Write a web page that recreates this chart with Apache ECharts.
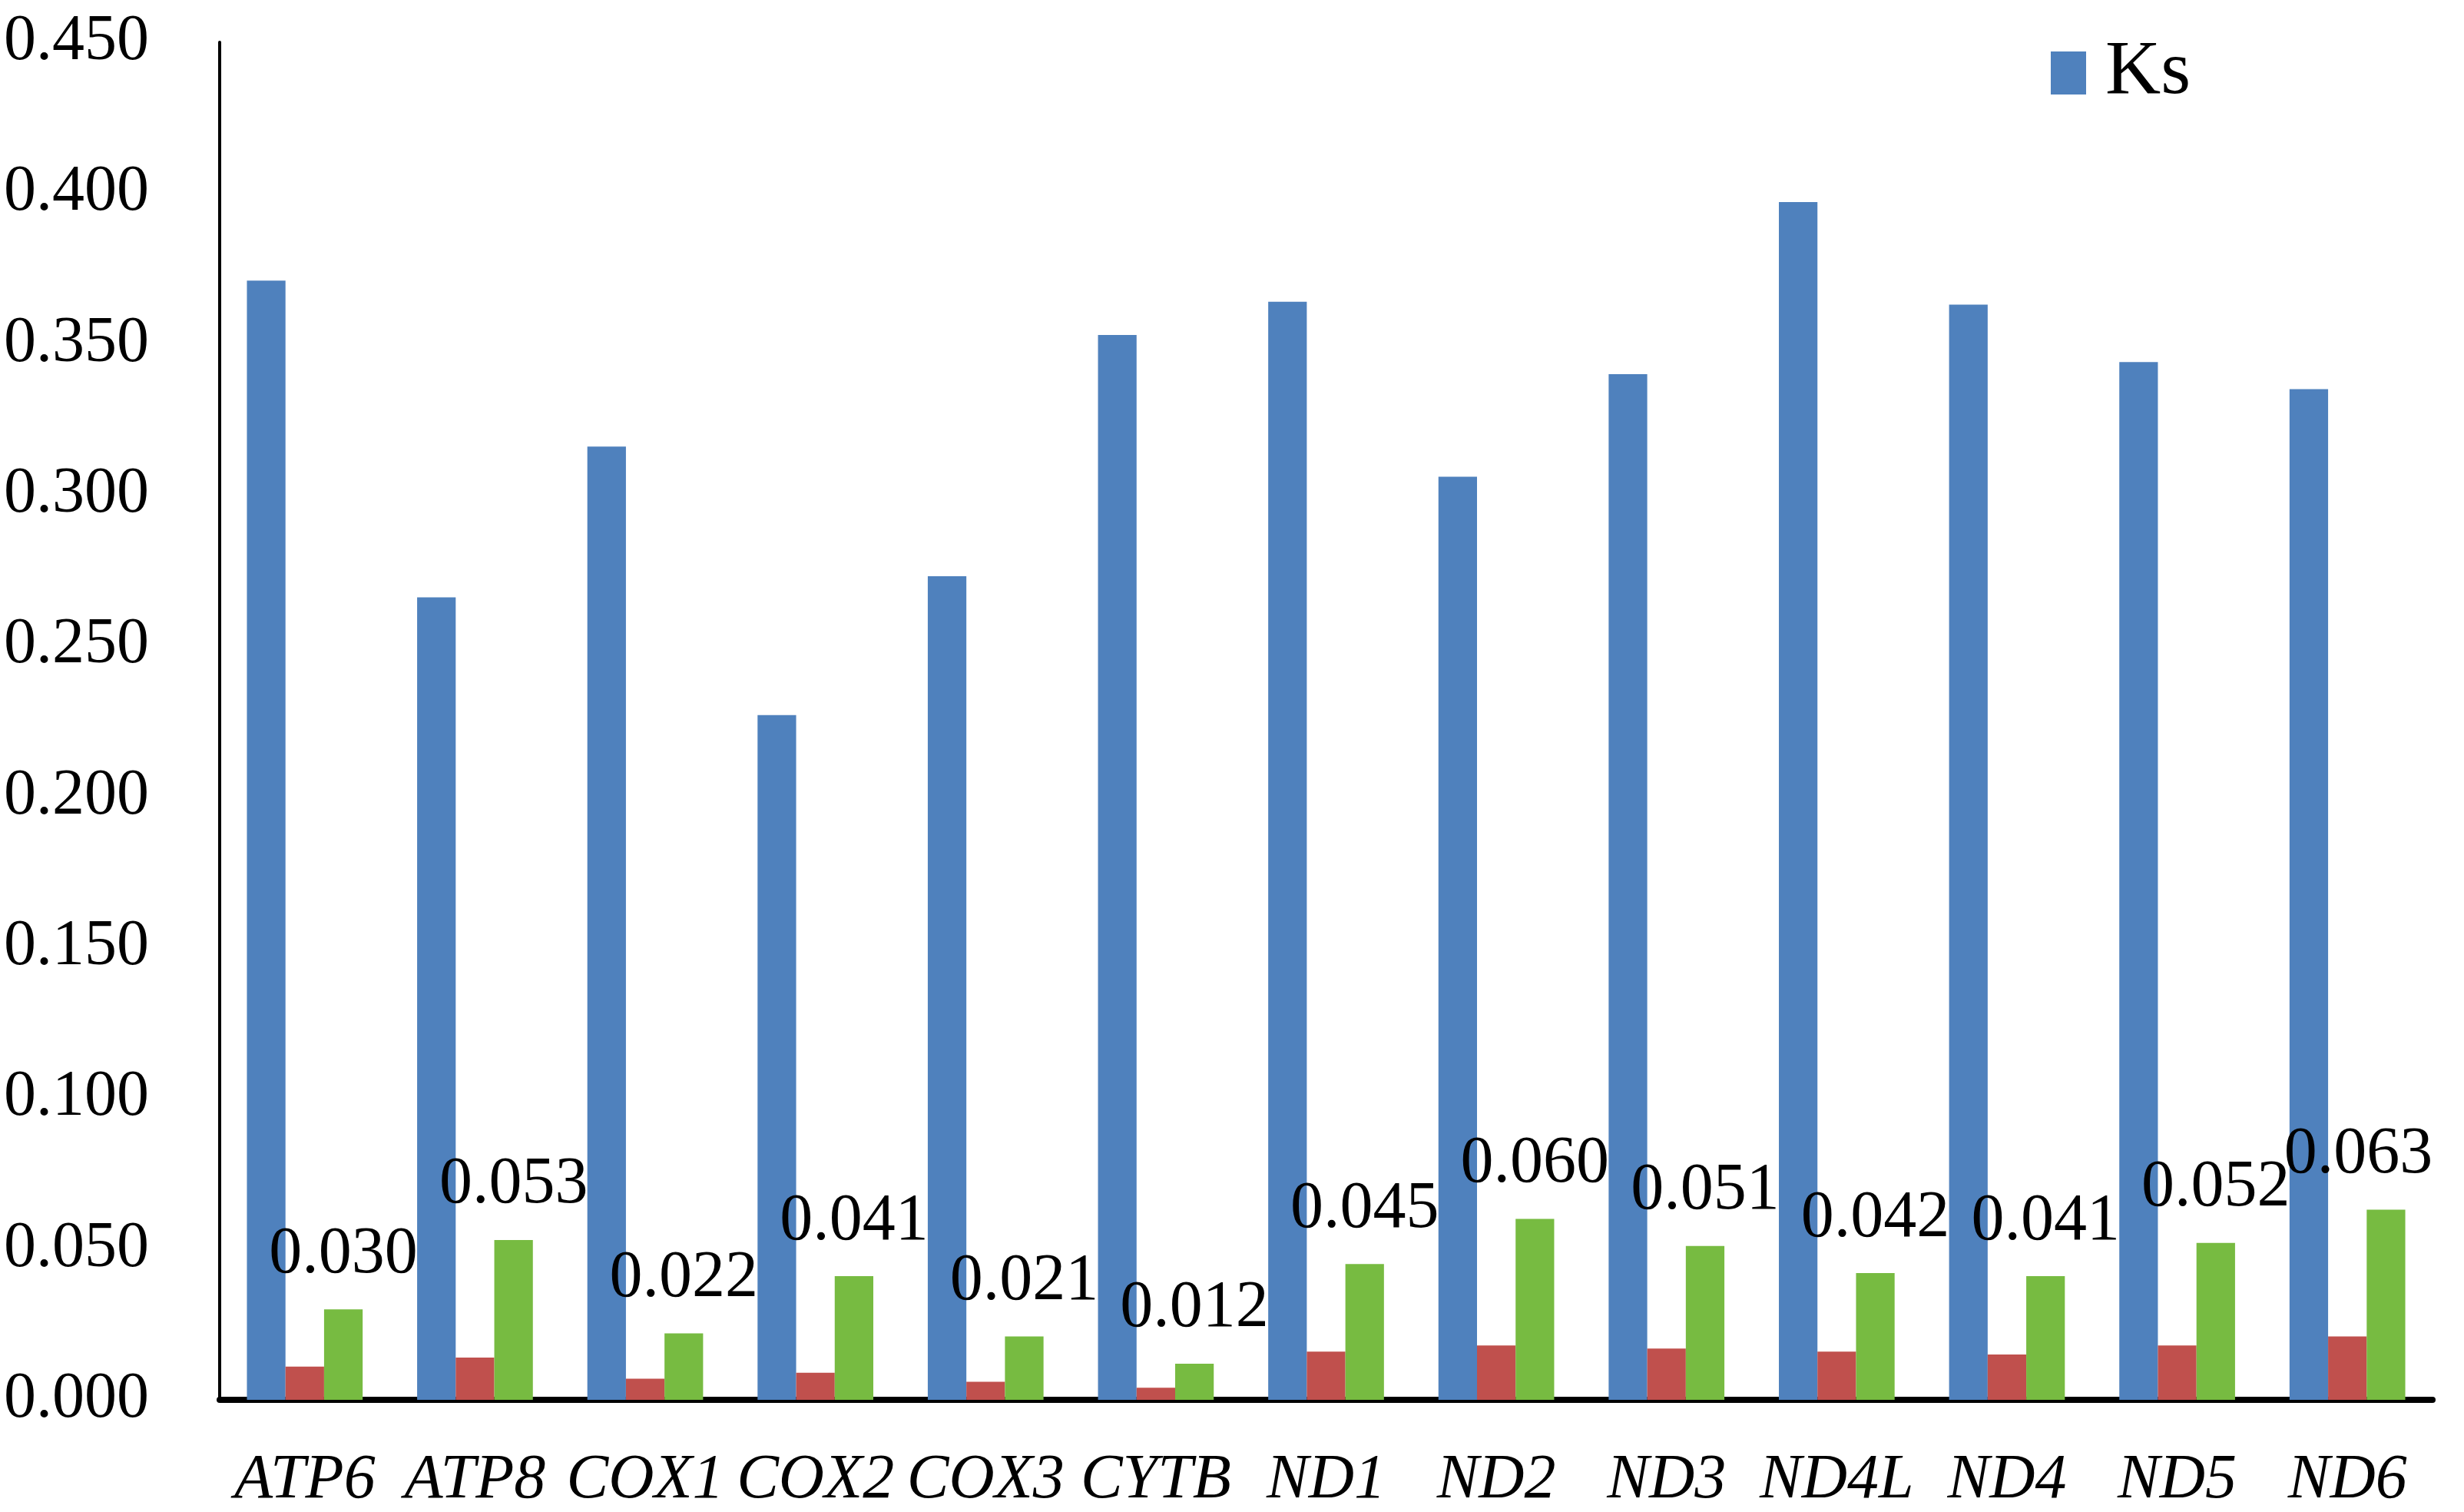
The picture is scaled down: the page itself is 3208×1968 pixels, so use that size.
<!DOCTYPE html>
<html><head><meta charset="utf-8">
<script src="https://cdn.jsdelivr.net/npm/echarts@6/dist/echarts.min.js"></script>
<style>html,body{margin:0;padding:0;background:#fff}#c{width:3208px;height:1968px}</style>
</head><body><div id="c"></div>
<script>
const categories = ['ATP6','ATP8','COX1','COX2','COX3','CYTB','ND1','ND2','ND3','ND4L','ND4','ND5','ND6'];
const ksValues = [0.371,0.266,0.316,0.227,0.273,0.353,0.364,0.306,0.340,0.397,0.363,0.344,0.335];
const kaValues = [0.011,0.014,0.007,0.009,0.006,0.004,0.016,0.018,0.017,0.016,0.015,0.018,0.021];
const kaksValues = [0.030,0.053,0.022,0.041,0.021,0.012,0.045,0.060,0.051,0.042,0.041,0.052,0.063];
const yTicks = [0,0.05,0.1,0.15,0.2,0.25,0.3,0.35,0.4,0.45];

const FONT = 'Liberation Serif';
// keep the last label inside the plot, as in the reference
const kaksData = kaksValues.map((v,i)=> i===kaksValues.length-1 ? {value:v,label:{offset:[-36,0]}} : v);

const chart = echarts.init(document.getElementById('c'), null, {renderer:'canvas'});
chart.setOption({
  animation:false,
  backgroundColor:'#fff',
  textStyle:{fontFamily:FONT,color:'#000'},
  legend:{
    data:['Ks'], left:2665, top:40, itemWidth:46, itemHeight:56, itemGap:20,
    textStyle:{fontFamily:FONT,fontSize:100,color:'#000',padding:[0,0,0,20]}, icon:'rect'
  },
  grid:{left:286,right:41,top:55,bottom:145,containLabel:false},
  xAxis:{
    type:'category', data:categories,
    axisLine:{lineStyle:{color:'#000',width:8}},
    axisTick:{show:false},
    axisLabel:{interval:0,fontFamily:FONT,fontSize:82,fontStyle:'italic',color:'#000',margin:64}
  },
  yAxis:{
    type:'value', min:yTicks[0], max:yTicks[yTicks.length-1], interval:0.05,
    axisLine:{show:true,lineStyle:{color:'#000',width:4}},
    axisTick:{show:false}, splitLine:{show:false},
    axisLabel:{fontFamily:FONT,fontSize:84,color:'#000',margin:92,formatter:v=>v.toFixed(3)}
  },
  series:[
    {name:'Ks',type:'bar',data:ksValues,itemStyle:{color:'#4F81BD'},barGap:'0%',barCategoryGap:'32%'},
    {name:'Ka',type:'bar',data:kaValues,itemStyle:{color:'#C0504D'},barGap:'0%',barCategoryGap:'32%'},
    {name:'Ka/Ks',type:'bar',data:kaksData,itemStyle:{color:'#77BB41'},barGap:'0%',barCategoryGap:'32%',
     label:{show:true,position:'top',distance:28,fontFamily:FONT,fontSize:86,color:'#000',
       formatter:p=>Number(p.value).toFixed(3)}}
  ]
});
</script></body></html>
